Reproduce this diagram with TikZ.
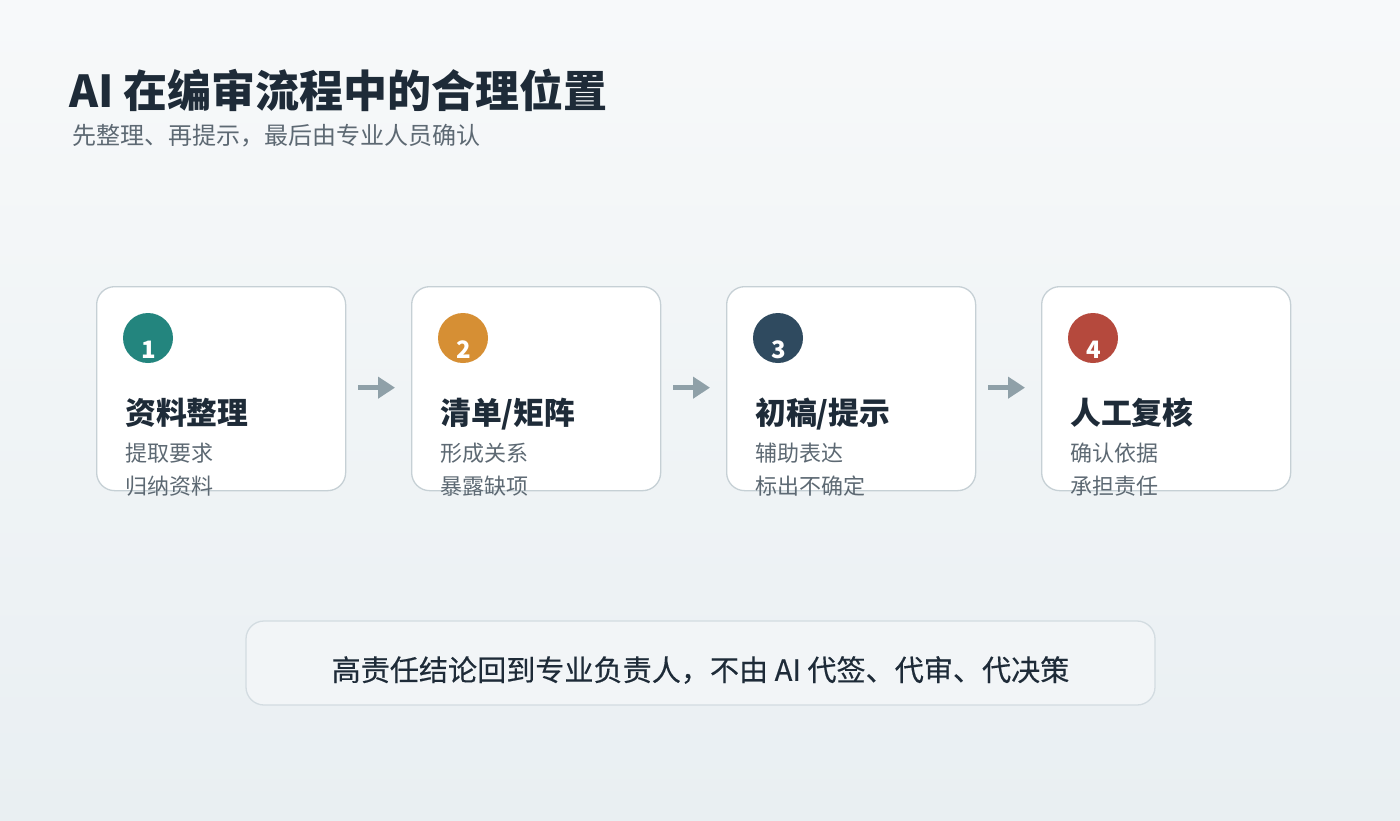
\documentclass[tikz,border=0pt]{standalone}
\usepackage{fontspec}
\setmainfont{Noto Sans CJK SC}
\newfontfamily\notefont{Noto Sans CJK SC}[FakeBold=0.35]
\usetikzlibrary{arrows.meta,calc}
\definecolor{bgtop}{HTML}{F7F9FA}
\definecolor{bgbot}{HTML}{E9EFF2}
\definecolor{ink}{HTML}{1E2B38}
\definecolor{sub}{HTML}{5D6973}
\definecolor{cardline}{HTML}{C6D0D5}
\definecolor{arrowc}{HTML}{8FA0A8}
\definecolor{cA}{HTML}{23857E}
\definecolor{cB}{HTML}{D68F34}
\definecolor{cC}{HTML}{2F4A5F}
\definecolor{cD}{HTML}{B5493D}
\definecolor{notefill}{HTML}{F2F5F7}
\definecolor{noteline}{HTML}{D3DCE1}
\tikzset{
  card/.style={draw=cardline, line width=1.3pt, fill=white, rounded corners=18pt,
    minimum width=249pt, minimum height=204pt, inner sep=0pt, anchor=north west},
  badge/.style={circle, fill=#1, minimum size=50pt, inner sep=0pt},
  badgenum/.style={anchor=base, text=white, font=\fontsize{24}{28}\selectfont\bfseries},
  cardtitle/.style={anchor=base west, inner sep=0pt, text=ink, font=\fontsize{30.8}{36}\selectfont\bfseries},
  carddesc/.style={anchor=base west, inner sep=0pt, text=sub, font=\fontsize{22}{26}\selectfont},
  flow/.style={draw=arrowc, line width=5pt, shorten <=12pt, shorten >=16pt,
    -{Triangle[length=17pt,width=21pt]}, arrowc},
}
\begin{document}
\begin{tikzpicture}[x=1pt,y=-1pt]
\shade[top color=bgtop, bottom color=bgbot] (0,0) rectangle (1400,820);
\useasboundingbox (0,0) rectangle (1400,820);

\node[anchor=base west, inner sep=0pt, text=ink, font=\fontsize{44}{52}\selectfont\bfseries] (title) at (69,107) {AI 在编审流程中的合理位置};
\node[anchor=base west, inner sep=0pt, text=sub, font=\fontsize{24}{28}\selectfont] (subtitle) at (72,144) {先整理、再提示，最后由专业人员确认};

\foreach \i/\x/\col/\t/\da/\db in {
  1/96/cA/{资料整理}/{提取要求}/{归纳资料},
  2/411/cB/{清单/矩阵}/{形成关系}/{暴露缺项},
  3/726/cC/{初稿/提示}/{辅助表达}/{标出不确定},
  4/1041/cD/{人工复核}/{确认依据}/{承担责任}}{
  \node[card] (c\i) at (\x,286) {};
  \node[badge=\col] (b\i) at ($(c\i.north west)+(52,52)$) {};
  \node[badgenum] (n\i) at ($(c\i.north west)+(52.5,72)$) {\i};
  \node[cardtitle] (t\i) at ($(c\i.north west)+(29,138)$) {\t};
  \node[carddesc] (d\i) at ($(c\i.north west)+(29,175)$) {\da};
  \node[carddesc] (e\i) at ($(c\i.north west)+(29,208)$) {\db};
}
\draw[flow] ($(c1.east)+(0,-1)$) -- ($(c2.west)+(0,-1)$);
\draw[flow] ($(c2.east)+(0,-1)$) -- ($(c3.west)+(0,-1)$);
\draw[flow] ($(c3.east)+(0,-1)$) -- ($(c4.west)+(0,-1)$);

\node[draw=noteline, line width=1.3pt, fill=notefill, rounded corners=18pt,
  minimum width=909pt, minimum height=84pt, inner sep=0pt] (note) at (700.5,663) {};
\node[text=ink, font=\fontsize{29.1}{32}\notefont, inner sep=0pt] (notetext) at (700.5,670) {高责任结论回到专业负责人，不由 AI 代签、代审、代决策};
\end{tikzpicture}
\end{document}
